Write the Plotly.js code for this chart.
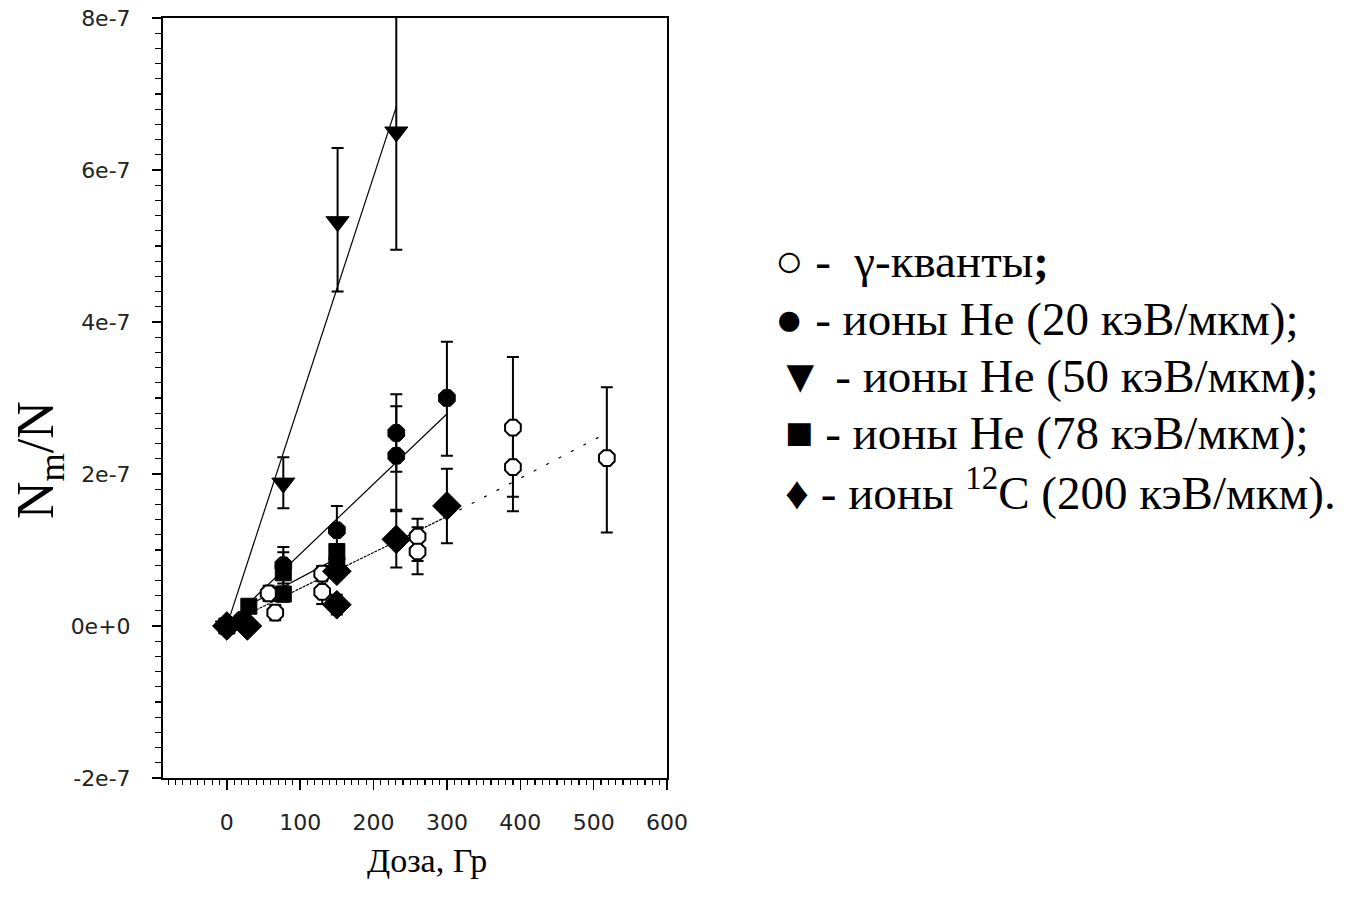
<!DOCTYPE html>
<html>
<head>
<meta charset="utf-8">
<script src="https://cdn.plot.ly/plotly-3.0.1.min.js"></script>
<style>html,body{margin:0;padding:0;background:#fff;}#chart{width:1346px;height:901px;}</style>
</head>
<body>
<div id="chart"></div>
<script>
// ---- data ----
// gamma quanta (open circles)
const gammaX = [57, 66, 130, 130, 260, 260, 390, 390, 518];
const gammaY = [4.3e-8, 1.75e-8, 6.9e-8, 4.5e-8, 1.175e-7, 9.8e-8, 2.61e-7, 2.09e-7, 2.21e-7];
const gammaErrPlus  = [1.0e-8, 1.0e-8, 1.0e-8, 1.6e-8, 2.35e-8, 3.2e-8, 9.3e-8, 5.8e-8, 9.3e-8];
const gammaErrMinus = [1.0e-8, 1.0e-8, 1.0e-8, 1.6e-8, 3.2e-8, 3.0e-8, 9.1e-8, 5.8e-8, 9.8e-8];
// He ions 20 keV/um (filled circles)
const he20X = [0, 20, 77, 150, 231, 231, 300];
const he20Y = [0, 8e-9, 8.0e-8, 1.26e-7, 2.54e-7, 2.24e-7, 3.0e-7];
const he20ErrPlus  = [0, 0, 2.4e-8, 3.2e-8, 5.1e-8, 6.5e-8, 7.4e-8];
const he20ErrMinus = [0, 0, 2.4e-8, 3.2e-8, 5.1e-8, 7.1e-8, 7.6e-8];
// He ions 50 keV/um (down triangles)
const he50X = [0, 77, 151, 231];
const he50Y = [0, 1.88e-7, 5.32e-7, 6.50e-7];
const he50ErrPlus  = [0, 3.4e-8, 9.7e-8, 1.55e-7];
const he50ErrMinus = [0, 3.3e-8, 9.2e-8, 1.55e-7];
// He ions 78 keV/um (squares)
const he78X = [0, 30, 77, 77, 150, 150];
const he78Y = [0, 2.6e-8, 7.0e-8, 4.2e-8, 9.8e-8, 8.0e-8];
const he78ErrPlus  = [0, 0, 2.7e-8, 1.0e-8, 1.0e-8, 1.0e-8];
const he78ErrMinus = [0, 0, 2.7e-8, 1.0e-8, 1.0e-8, 1.0e-8];
// 12C ions 200 keV/um (diamonds)
const c12X = [0, 28, 150, 150, 231, 300];
const c12Y = [0, 0, 2.8e-8, 7.2e-8, 1.14e-7, 1.58e-7];
const c12ErrPlus  = [0, 0, 1.3e-8, 1.0e-8, 3.7e-8, 4.9e-8];
const c12ErrMinus = [0, 0, 1.3e-8, 1.0e-8, 3.7e-8, 4.9e-8];
// fitted lines (end points)
const fitHe50X = [5, 231];   const fitHe50Y = [1.5e-8, 6.83e-7];
const fitHe20X = [25, 301];  const fitHe20Y = [2.55e-8, 2.80e-7];
const fitHe78X = [25, 150];  const fitHe78Y = [2.5e-8, 8.9e-8];
const fitC12X  = [25, 300];  const fitC12Y  = [1.4e-8, 1.44e-7];
const fitGammaX = [300, 518]; const fitGammaY = [1.44e-7, 2.54e-7];
// axis ticks
const xTickVals = [0, 100, 200, 300, 400, 500, 600];
const xTickText = ['0', '100', '200', '300', '400', '500', '600'];
const yTickVals = [-2e-7, 0, 2e-7, 4e-7, 6e-7, 8e-7];
const yTickText = ['-2e-7', '0e+0', '2e-7', '4e-7', '6e-7', '8e-7'];
// legend texts
const legendTexts = [
  '○ -  γ-кванты<b>;</b>',
  '● - ионы Не (20 кэВ/мкм);',
  '▼ - ионы Не (50 кэВ/мкм<b>)</b>;',
  '■ - ионы Не (78 кэВ/мкм);',
  '♦ - ионы <sup>12</sup>С (200 кэВ/мкм).'
];
const xTitle = 'Доза, Гр';
const yTitle = 'N<sub>m</sub>/N';

// ---- plot ----
function errs(plus, minus) {
  return {type: 'data', symmetric: false, array: plus, arrayminus: minus,
          color: '#000', thickness: 2, width: 6};
}
function line(x, y, dash) {
  return {x: x, y: y, type: 'scatter', mode: 'lines', hoverinfo: 'skip', showlegend: false,
          line: {color: '#000', width: 1.2, dash: dash || 'solid'}};
}
const traces = [
  line(fitHe50X, fitHe50Y),
  line(fitHe20X, fitHe20Y),
  line(fitHe78X, fitHe78Y),
  line(fitC12X, fitC12Y, '3px,1px'),
  line(fitGammaX, fitGammaY, '3px,11px'),
  {x: gammaX, y: gammaY, type: 'scatter', mode: 'markers', showlegend: false,
   error_y: errs(gammaErrPlus, gammaErrMinus),
   marker: {symbol: 'octagon', size: 17, color: '#fff', line: {color: '#000', width: 2}}},
  {x: he78X, y: he78Y, type: 'scatter', mode: 'markers', showlegend: false,
   error_y: errs(he78ErrPlus, he78ErrMinus),
   marker: {symbol: 'square', size: 16, color: '#000', line: {color: '#000', width: 1}}},
  {x: c12X, y: c12Y, type: 'scatter', mode: 'markers', showlegend: false,
   error_y: errs(c12ErrPlus, c12ErrMinus),
   marker: {symbol: 'diamond', size: 22, color: '#000', line: {color: '#000', width: 1}}},
  {x: he20X, y: he20Y, type: 'scatter', mode: 'markers', showlegend: false,
   error_y: errs(he20ErrPlus, he20ErrMinus),
   marker: {symbol: 'octagon', size: 18, color: '#000', line: {color: '#000', width: 1}}},
  {x: he50X, y: he50Y, type: 'scatter', mode: 'markers', showlegend: false,
   error_y: errs(he50ErrPlus, he50ErrMinus),
   marker: {symbol: 'triangle-down', size: 20, color: '#000', line: {color: '#000', width: 1}}}
];

const plotL = 163, plotR = 667, plotT = 18, plotB = 778;
const W = 1346, H = 901;
function px2paperX(px) { return (px - plotL) / (plotR - plotL); }
function px2paperY(py) { return (plotB - py) / (plotB - plotT); }

const legendPos = [[773, 261], [773, 319], [775, 376], [783, 433], [783, 489]];
const annotations = legendTexts.map(function (t, i) {
  return {text: t, xref: 'paper', yref: 'paper', x: px2paperX(legendPos[i][0]), y: px2paperY(legendPos[i][1]),
          xanchor: 'left', yanchor: 'middle', showarrow: false,
          font: {family: 'Liberation Serif, Times New Roman, serif', size: 47, color: '#000'}};
});
annotations.push({text: xTitle, xref: 'paper', yref: 'paper', x: px2paperX(427), y: px2paperY(860),
  xanchor: 'center', yanchor: 'middle', showarrow: false,
  font: {family: 'Liberation Serif, Times New Roman, serif', size: 34, color: '#000'}});
annotations.push({text: yTitle, xref: 'paper', yref: 'paper', x: px2paperX(40), y: px2paperY(460),
  xanchor: 'center', yanchor: 'middle', showarrow: false, textangle: -90,
  font: {family: 'Liberation Serif, Times New Roman, serif', size: 52, color: '#000'}});

const layout = {
  width: W, height: H,
  margin: {l: plotL, r: W - plotR, t: plotT, b: H - plotB, pad: 0},
  paper_bgcolor: '#fff', plot_bgcolor: '#fff',
  showlegend: false,
  xaxis: {
    range: [-87, 600], tickmode: 'array', tickvals: xTickVals, ticktext: xTickText,
    ticks: 'outside', ticklen: 10, tickwidth: 1.5, tickcolor: '#000',
    minor: {dtick: 10, tick0: 0, ticks: 'outside', ticklen: 5, tickwidth: 1.2, tickcolor: '#000', showgrid: false},
    showline: true, linecolor: '#000', linewidth: 2, mirror: true,
    showgrid: false, zeroline: false, ticklabelstandoff: 14,
    tickfont: {family: 'DejaVu Sans, sans-serif', size: 22, color: '#222'}
  },
  yaxis: {
    range: [-2e-7, 8e-7], tickmode: 'array', tickvals: yTickVals, ticktext: yTickText,
    ticks: 'outside', ticklen: 9, tickwidth: 1.5, tickcolor: '#000',
    minor: {dtick: 2e-8, tick0: 0, ticks: 'outside', ticklen: 6, tickwidth: 1.2, tickcolor: '#000', showgrid: false},
    showline: true, linecolor: '#000', linewidth: 2, mirror: true,
    showgrid: false, zeroline: false, ticklabelstandoff: 17,
    tickfont: {family: 'DejaVu Sans, sans-serif', size: 22, color: '#222'}
  },
  annotations: annotations
};

Plotly.newPlot('chart', traces, layout, {displayModeBar: false, staticPlot: true});
</script>
</body>
</html>
